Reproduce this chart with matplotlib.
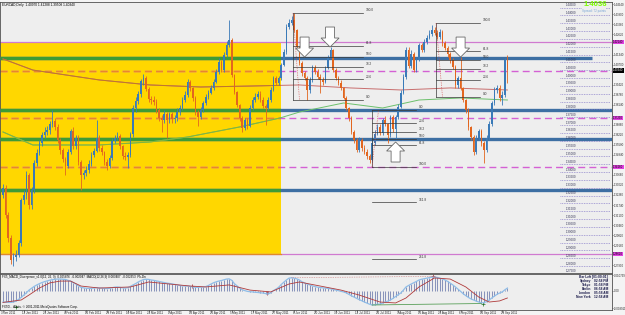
import numpy as np
import pandas as pd
import matplotlib.pyplot as plt
from matplotlib.patches import Rectangle, Polygon

plt.rcParams['font.family'] = ['Liberation Sans', 'DejaVu Sans']

# EURCAD daily bars, 3 Jan 2011 .. 30 Sep 2011 (weekdays)
dates = pd.bdate_range('2011-01-03', '2011-09-30')

first_open = 1.3240
closes = [1.3283, 1.3110, 1.2964, 1.2823, 1.2842, 1.2855, 1.2932, 1.3206, 1.3238, 1.3366,
          1.3174, 1.3270, 1.3442, 1.3506, 1.3570, 1.3621, 1.3640, 1.3653, 1.3691, 1.3710,
          1.3672, 1.3589, 1.3525, 1.3468, 1.3423, 1.3512, 1.3646, 1.3550, 1.3602, 1.3448,
          1.3366, 1.3378, 1.3397, 1.3436, 1.3493, 1.3519, 1.3602, 1.3538, 1.3512, 1.3448,
          1.3423, 1.3474, 1.3582, 1.3602, 1.3614, 1.3550, 1.3487, 1.3480, 1.3493, 1.3627,
          1.3793, 1.3838, 1.3882, 1.3965, 1.3984, 1.3914, 1.3850, 1.3844, 1.3831, 1.3780,
          1.3729, 1.3716, 1.3755, 1.3716, 1.3755, 1.3723, 1.3729, 1.3767, 1.3793, 1.3844,
          1.3876, 1.3959, 1.3921, 1.3857, 1.3767, 1.3736, 1.3780, 1.3825, 1.3863, 1.3889,
          1.3921, 1.3959, 1.4023, 1.4086, 1.4035, 1.4131, 1.4195, 1.4227, 1.4004, 1.3895,
          1.3812, 1.3729, 1.3665, 1.3716, 1.3678, 1.3793, 1.3844, 1.3863, 1.3882, 1.3844,
          1.3806, 1.3793, 1.3844, 1.3908, 1.3984, 1.3952, 1.3984, 1.4067, 1.4150, 1.4310,
          1.4335, 1.4354, 1.4291, 1.4182, 1.4080, 1.4016, 1.3984, 1.3908, 1.3972, 1.4048,
          1.4023, 1.3991, 1.3972, 1.3959, 1.4048, 1.4118, 1.4163, 1.4035, 1.3984, 1.3952,
          1.3921, 1.3857, 1.3793, 1.3729, 1.3640, 1.3589, 1.3525, 1.3589, 1.3538, 1.3512,
          1.3487, 1.3461, 1.3570, 1.3627, 1.3672, 1.3633, 1.3716, 1.3691, 1.3621, 1.3736,
          1.3659, 1.3736, 1.3799, 1.3889, 1.3991, 1.4163, 1.4061, 1.4138, 1.4035, 1.4099,
          1.4195, 1.4163, 1.4214, 1.4240, 1.4265, 1.4291, 1.4271, 1.4246, 1.4278, 1.4208,
          1.4176, 1.4138, 1.4099, 1.4055, 1.3940, 1.3984, 1.3921, 1.3844, 1.3780, 1.3672,
          1.3608, 1.3512, 1.3602, 1.3646, 1.3570, 1.3525, 1.3602, 1.3691, 1.3825, 1.3908,
          1.3921, 1.3857, 1.3876, 1.4097, 1.4034]
highs = [1.331, 1.330, 1.313, 1.298, 1.287, 1.289, 1.295, 1.322, 1.327, 1.339,
         1.338, 1.329, 1.346, 1.353, 1.359, 1.364, 1.367, 1.368, 1.371, 1.378,
         1.373, 1.369, 1.360, 1.354, 1.348, 1.353, 1.366, 1.367, 1.362, 1.362,
         1.346, 1.340, 1.342, 1.346, 1.351, 1.354, 1.3716, 1.362, 1.356, 1.352,
         1.347, 1.349, 1.360, 1.362, 1.364, 1.363, 1.356, 1.351, 1.351, 1.364,
         1.381, 1.386, 1.390, 1.398, 1.401, 1.400, 1.393, 1.387, 1.387, 1.385,
         1.379, 1.375, 1.378, 1.377, 1.377, 1.377, 1.375, 1.379, 1.381, 1.386,
         1.390, 1.398, 1.397, 1.393, 1.387, 1.378, 1.380, 1.384, 1.388, 1.391,
         1.394, 1.398, 1.404, 1.411, 1.410, 1.415, 1.422, 1.4354, 1.424, 1.401,
         1.390, 1.382, 1.374, 1.373, 1.373, 1.381, 1.386, 1.389, 1.390, 1.390,
         1.386, 1.382, 1.386, 1.393, 1.400, 1.400, 1.400, 1.408, 1.417, 1.433,
         1.436, 1.438, 1.4399, 1.430, 1.419, 1.409, 1.403, 1.400, 1.399, 1.407,
         1.407, 1.404, 1.401, 1.399, 1.406, 1.413, 1.4182, 1.417, 1.405, 1.400,
         1.397, 1.393, 1.387, 1.380, 1.374, 1.365, 1.360, 1.361, 1.360, 1.356,
         1.353, 1.350, 1.359, 1.365, 1.369, 1.369, 1.373, 1.374, 1.370, 1.375,
         1.375, 1.375, 1.382, 1.391, 1.401, 1.418, 1.418, 1.416, 1.415, 1.412,
         1.421, 1.421, 1.423, 1.426, 1.429, 1.4323, 1.431, 1.429, 1.430, 1.429,
         1.422, 1.419, 1.415, 1.411, 1.407, 1.400, 1.4118, 1.393, 1.385, 1.379,
         1.368, 1.362, 1.362, 1.366, 1.366, 1.358, 1.362, 1.371, 1.384, 1.393,
         1.394, 1.394, 1.390, 1.411, 1.41288]
lows = [1.322, 1.309, 1.294, 1.280, 1.2785, 1.282, 1.284, 1.291, 1.318, 1.321,
        1.315, 1.315, 1.325, 1.342, 1.349, 1.355, 1.360, 1.362, 1.363, 1.367,
        1.365, 1.357, 1.350, 1.345, 1.3366, 1.341, 1.350, 1.353, 1.353, 1.343,
        1.327, 1.334, 1.336, 1.338, 1.342, 1.348, 1.351, 1.352, 1.349, 1.343,
        1.340, 1.341, 1.346, 1.357, 1.359, 1.353, 1.347, 1.346, 1.341, 1.348,
        1.361, 1.377, 1.382, 1.386, 1.394, 1.390, 1.383, 1.382, 1.381, 1.376,
        1.371, 1.364, 1.370, 1.360, 1.370, 1.370, 1.370, 1.371, 1.375, 1.378,
        1.383, 1.386, 1.390, 1.384, 1.375, 1.368, 1.372, 1.377, 1.381, 1.385,
        1.388, 1.391, 1.395, 1.401, 1.402, 1.402, 1.412, 1.418, 1.399, 1.388,
        1.380, 1.371, 1.364, 1.365, 1.366, 1.367, 1.378, 1.383, 1.385, 1.383,
        1.379, 1.3685, 1.378, 1.383, 1.390, 1.394, 1.394, 1.397, 1.406, 1.414,
        1.430, 1.432, 1.428, 1.417, 1.407, 1.400, 1.397, 1.3844, 1.389, 1.396,
        1.401, 1.398, 1.389, 1.394, 1.395, 1.404, 1.411, 1.402, 1.397, 1.394,
        1.391, 1.385, 1.378, 1.371, 1.363, 1.357, 1.351, 1.351, 1.352, 1.350,
        1.347, 1.3442, 1.345, 1.356, 1.362, 1.362, 1.362, 1.368, 1.357, 1.361,
        1.364, 1.359, 1.372, 1.379, 1.388, 1.398, 1.405, 1.405, 1.402, 1.402,
        1.409, 1.415, 1.415, 1.420, 1.423, 1.425, 1.426, 1.423, 1.423, 1.419,
        1.416, 1.412, 1.408, 1.404, 1.392, 1.392, 1.391, 1.383, 1.376, 1.365,
        1.359, 1.349, 1.350, 1.359, 1.355, 1.3442, 1.351, 1.359, 1.368, 1.381,
        1.389, 1.384, 1.3812, 1.386, 1.39508]

# moving averages read at a few points (bar index, price)
ma_slow_bars = [0, 11.5, 37, 56.5, 76, 95, 114, 133.5, 153, 172, 194]
ma_slow_vals = [1.4106, 1.4035, 1.3972, 1.3940, 1.3927, 1.3933, 1.3940, 1.3921, 1.3908, 1.3921, 1.3908]
ma_fast_bars = [0, 11.5, 37, 56.5, 71, 91, 106.5, 114, 131, 146, 160, 176, 194]
ma_fast_vals = [1.3640, 1.3557, 1.3557, 1.3576, 1.3608, 1.3672, 1.3729, 1.3767, 1.3825, 1.3793, 1.3844, 1.3857, 1.3844]

# horizontal levels
level_thick = [1.4112, 1.3780, 1.3595, 1.3270]
level_dashed = [1.4032, 1.3729, 1.3416]
level_solid = [1.4214, 1.2862]
box_top, box_bottom = 1.4214, 1.2862

# fibonacci drawings: (price at 0.0, price at 100.0, levels shown)
fib_sets = [
    (1.3844, 1.4399, [0.0, 23.6, 38.2, 50.0, 61.8, 100.0]),
    (1.3780, 1.3416, [0.0, 23.6, 38.2, 50.0, 61.8, 100.0, 161.8, 261.8]),
    (1.3863, 1.4335, [0.0, 23.6, 38.2, 50.0, 61.8, 100.0]),
]

# MACD(12,26,9) histogram / main line and signal line
macd = [-0.0060, -0.0061, -0.0062, -0.0062, -0.0060, -0.0055, -0.0045, -0.0035, -0.0022, -0.0010,
        0.0005, 0.0015, 0.0025, 0.0033, 0.0040, 0.0046, 0.0051, 0.0055, 0.0059, 0.0062,
        0.0064, 0.0065, 0.0065, 0.0064, 0.0063, 0.0058, 0.0054, 0.0046, 0.0038, 0.0028,
        0.0020, 0.0017, 0.0015, 0.0014, 0.0015, 0.0016, 0.0018, 0.0017, 0.0016, 0.0014,
        0.0013, 0.0015, 0.0018, 0.0021, 0.0022, 0.0020, 0.0017, 0.0016, 0.0018, 0.0025,
        0.0033, 0.0040, 0.0049, 0.0056, 0.0062, 0.0064, 0.0063, 0.0060, 0.0058, 0.0055,
        0.0052, 0.0049, 0.0046, 0.0043, 0.0041, 0.0039, 0.0036, 0.0033, 0.0030, 0.0028,
        0.0027, 0.0027, 0.0025, 0.0022, 0.0020, 0.0020, 0.0021, 0.0022, 0.0024, 0.0030,
        0.0038, 0.0045, 0.0050, 0.0054, 0.0057, 0.0061, 0.0065, 0.0066, 0.0058, 0.0040,
        0.0028, 0.0016, 0.0007, 0.0002, -0.0002, -0.0004, -0.0005, -0.0007, -0.0008, -0.0010,
        -0.0011, -0.0014, -0.0016, -0.0010, 0.0002, 0.0010, 0.0020, 0.0035, 0.0048, 0.0060,
        0.0070, 0.0072, 0.0070, 0.0066, 0.0060, 0.0050, 0.0044, 0.0038, 0.0033, 0.0028,
        0.0024, 0.0021, 0.0019, 0.0017, 0.0016, 0.0014, 0.0012, 0.0009, 0.0005, 0.0002,
        -0.0002, -0.0005, -0.0010, -0.0018, -0.0026, -0.0033, -0.0040, -0.0047, -0.0053, -0.0060,
        -0.0066, -0.0072, -0.0076, -0.0075, -0.0072, -0.0071, -0.0066, -0.0060, -0.0055, -0.0049,
        -0.0040, -0.0030, -0.0020, -0.0011, 0.0005, 0.0022, 0.0030, 0.0038, 0.0045, 0.0052,
        0.0060, 0.0064, 0.0067, 0.0070, 0.0073, 0.0075, 0.0076, 0.0074, 0.0070, 0.0066,
        0.0060, 0.0052, 0.0043, 0.0033, 0.0022, 0.0010, -0.0002, -0.0015, -0.0025, -0.0035,
        -0.0043, -0.0049, -0.0055, -0.0060, -0.0065, -0.0063, -0.0058, -0.0049, -0.0038, -0.0028,
        -0.0018, -0.0011, -0.0005, 0.0006, 0.0016]
signal_bars = [0, 7, 10, 14, 18, 22, 26, 30, 37, 49, 56, 64, 72, 78, 87, 95, 103, 110, 114, 122,
               130, 137, 145, 151, 155, 160, 166, 172, 178, 183, 187, 191, 194]
signal_vals = [-0.0062, -0.0049, -0.0022, 0.0016, 0.0044, 0.0054, 0.0054, 0.0027, 0.0016, 0.0022,
               0.0049, 0.0038, 0.0027, 0.0022, 0.0033, 0.0005, -0.0005, 0.0038, 0.0049, 0.0027,
               0.0005, -0.0022, -0.0060, -0.0065, -0.0038, 0.0022, 0.0071, 0.0065, 0.0022, -0.0033,
               -0.0060, -0.0054, -0.0038]

clock_names = ['Sydney', 'Tokyo', 'Berlin', 'London', 'New York']
clock_times = ['02:58 PM', '01:58 PM', '06:58 AM', '05:58 AM', '12:58 AM']

# ---------------------------------------------------------------------------
W, H = 625, 315
PXB = 2.6          # pixels per bar
PXP = 0.000638     # price per pixel

fig = plt.figure(figsize=(W / 100, H / 100), dpi=100)
fig.patch.set_facecolor('#f4f4f4')


def px_axes(x0, y0, x1, y1):
    return fig.add_axes([x0 / W, 1 - y1 / H, (x1 - x0) / W, (y1 - y0) / H])


def bx(px):
    return (px - 3) / PXB


ax = px_axes(0, 2, 612, 273)
mx = px_axes(0, 274, 612, 310)
bg = '#eeeeee'
xl = (bx(0), bx(612))
for a in (ax, mx):
    a.set_facecolor(bg)
    a.set_xlim(*xl)
    a.set_xticks([])
    for s in a.spines.values():
        s.set_color('#505050')
        s.set_linewidth(0.6)
ax.set_ylim(1.4482 - 273 * PXP, 1.4482 - 2 * PXP)

idx = np.arange(len(closes))
c = np.array(closes)
o = np.array([first_open] + closes[:-1])
hi = np.array(highs)
lo = np.array(lows)

# yellow zone
box = Rectangle((xl[0], box_bottom), bx(281) - xl[0], box_top - box_bottom,
                facecolor='#ffd700', edgecolor='none', zorder=1)
ax.add_patch(box)

blue, green = '#3d6fa3', '#3e9b35'
for p in level_thick:
    end = bx(592) if p == level_thick[0] else xl[1]
    ax.plot([xl[0], end], [p, p], color=blue, lw=2.4, solid_capstyle='butt', zorder=3)
    g, = ax.plot([xl[0], end], [p, p], color=green, lw=2.4, solid_capstyle='butt', zorder=3)
    g.set_clip_path(box)
for p in level_dashed:
    ax.plot(xl, [p, p], color='#d460d4', lw=1.0, dashes=(5, 3), zorder=2)
    d, = ax.plot(xl, [p, p], color='#e8862e', lw=1.0, dashes=(5, 3), zorder=2)
    d.set_clip_path(box)
for p in level_solid:
    ax.plot(xl, [p, p], color='#d07ad0', lw=0.9, zorder=2)
ax.plot([xl[0], bx(281)], [box_bottom, box_bottom], color='#e08a2a', lw=0.9, zorder=2)

# moving averages
for bars, vals, out_c, in_c in ((ma_slow_bars, ma_slow_vals, '#c86e6e', '#c0782a'),
                                (ma_fast_bars, ma_fast_vals, '#6cc06c', '#86b43a')):
    ax.plot(bars, vals, color=out_c, lw=0.7, zorder=3)
    m, = ax.plot(bars, vals, color=in_c, lw=0.7, zorder=3)
    m.set_clip_path(box)

# candles
col = np.where(c >= o, '#3a7ab8', '#e2661f')
ax.vlines(idx, lo, hi, colors=col, lw=0.6, zorder=4)
ax.bar(idx, np.maximum(np.abs(c - o), 0.0004), bottom=np.minimum(o, c), width=0.66,
       color=col, lw=0, zorder=5)

# fibonacci levels
fib_x = [(bx(293), bx(363)), (bx(372), bx(416)), (bx(436), bx(480))]
for (p0, p100, lv), (x0, x1) in zip(fib_sets, fib_x):
    for l in lv:
        p = p0 + (p100 - p0) * l / 100
        ax.plot([x0, x1], [p, p], color='#3a3a3a', lw=0.5, zorder=6)
        ax.text(x1 + 1.2, p + 0.0005, f'{l:.1f}', fontsize=2.3, color='#333333',
                ha='left', va='bottom', zorder=6)
    ax.plot([x0, x0], [p0, p100], color='#3a3a3a', lw=0.5, zorder=6)
    ax.plot([x0, x0 + 2.5], [p100, p0], color='#d04040', lw=0.5, ls=(0, (1, 1.5)), zorder=6)

# hollow arrows (bar, tip price, direction)
arrow_marks = [(116, 1.4118, -1), (125.8, 1.4182, -1), (176, 1.4118, -1), (151, 1.3576, 1)]
hw, sw, hh, tot = 9 / PXB, 4.5 / PXB, 9 * PXP, 20 * PXP
for b, t, d in arrow_marks:
    s = -d
    pts = [(b, t), (b + hw, t + s * hh), (b + sw, t + s * hh), (b + sw, t + s * tot),
           (b - sw, t + s * tot), (b - sw, t + s * hh), (b - hw, t + s * hh)]
    ax.add_patch(Polygon(pts, closed=True, facecolor='white', edgecolor='#6a6a6a',
                         lw=0.6, zorder=7))

# price ladder overlay on the right
for p in np.round(np.arange(1.275, 1.4451, 0.005), 3):
    ax.plot([bx(560), bx(610)], [p - 0.0016, p - 0.0016], color='#8478c8', lw=0.55,
            ls=(0, (1, 1.2)), zorder=6)
    ax.text(bx(566), p, f'{p:.5f}', fontsize=2.1, color='#333355', ha='left',
            va='center', zorder=6)

# right price scale, with coloured level tags
tags = [(1.4214, '#e040e0', 'black'), (1.3729, '#e040e0', 'black'),
        (1.3416, '#e040e0', 'black'), (1.2862, '#e040e0', 'black'),
        (c[-1], 'black', 'white')]
ax.yaxis.tick_right()
ticks = np.round(np.arange(1.2790, 1.4470, 0.0064), 4)
ticks = [t for t in ticks if min(abs(t - tg[0]) for tg in tags) > 0.0035]
ax.set_yticks(ticks)
ax.set_yticklabels([f'{t:.4f}0' for t in ticks])
ax.tick_params(axis='y', labelsize=2.0, length=1.0, width=0.4, pad=0.3, colors='#222222')
for p, fc, tc in tags:
    ax.text(1.0015, p, f'{p:.5f}', transform=ax.get_yaxis_transform(), fontsize=2.0,
            color=tc, va='center', ha='left', clip_on=False,
            bbox=dict(boxstyle='square,pad=0.12', fc=fc, ec='none'), zorder=8)

# header texts
ax.text(0.004, 0.995, f'EURCAD,Daily  {o[-1]:.5f} {hi[-1]:.5f} {lo[-1]:.5f} {c[-1]:.5f}',
        transform=ax.transAxes, fontsize=2.3, va='top', ha='left', color='black')
ax.text(bx(607), 1.4430, f'{c[-1] + 0.0002:.4f}', fontsize=5.6, color='#7cfc00',
        ha='right', va='bottom', fontweight='bold', zorder=8)
ax.text(bx(606), 1.4426, 'Spread: 72 points', fontsize=2.2, color='#7aa6d6',
        ha='right', va='top', zorder=8,
        bbox=dict(boxstyle='square,pad=0.1', fc=bg, ec='none'))

# MACD panel
mx.set_ylim(-(310 - 291) * 0.000544, (291 - 274) * 0.000544)
mx.vlines(idx, 0, macd, colors='#5e6ea6', lw=0.5, zorder=2)
mx.plot(idx, macd, color='#8fbde8', lw=0.9, zorder=3)
mx.plot(signal_bars, signal_vals, color='#b03a3a', lw=0.6, zorder=3)
mx.plot([111, 166], [0.0072, 0.0080], color='#c87070', lw=0.5, ls=(0, (1, 1.5)), zorder=3)
mx.plot([142, 184], [-0.0076, -0.0068], color='#5aa05a', lw=0.6, zorder=3)
mx.plot([101.5, 165.4, 72.7], [-0.0011, 0.0080, 0.0027], '+', color='#a02020', ms=2.5, mew=0.5)
mx.plot([184.6, 5], [-0.0068, -0.0087], '+', color='#207020', ms=2.5, mew=0.5)
mx.yaxis.tick_right()
mx.set_yticks([0.0087, 0.0, -0.0095])
mx.set_yticklabels(['0.010739', '0.00', '-0.008911'])
mx.tick_params(axis='y', labelsize=2.0, length=1.0, width=0.4, pad=0.3, colors='#222222')
mx.text(0.004, 0.97, 'FX5_MACD_Divergence_v1.0(12, 26, 9)  0.005876  -0.002047  '
        'MACD(12,26,9) 0.003407  -0.002353  Pk-Dn', transform=mx.transAxes,
        fontsize=2.2, va='top', ha='left', color='black')
mx.text(0.004, 0.04, 'FX5D... Alerts. \u00a9 2001-2011 MetaQuotes Software Corp.',
        transform=mx.transAxes, fontsize=2.2, va='bottom', ha='left', color='black')
mx.text(bx(608), 0.0086, 'Bar Left [01:00:01]', fontsize=2.3, fontweight='bold',
        color='#1a1a4a', ha='right', va='top')
for k, (nm, tm) in enumerate(zip(clock_names, clock_times)):
    yv = 0.0086 - (k + 1) * 0.0022
    mx.text(bx(591), yv, nm, fontsize=2.3, fontweight='bold', color='#1a1a4a',
            ha='right', va='top')
    mx.text(bx(608), yv, tm, fontsize=2.3, fontweight='bold', color='#1a1a4a',
            ha='right', va='top')

# date labels every 8 bars
for i in range(0, len(dates), 8):
    d = dates[i]
    fig.text((3 + PXB * i - 1.5) / W, 1 - 314.8 / H, f'{d.day} {d.strftime("%b %Y")}',
             fontsize=2.1, ha='left', va='bottom', color='#222222')
    fig.add_artist(plt.Line2D([(3 + PXB * i) / W] * 2, [1 - 310 / H, 1 - 311.5 / H],
                              color='#404040', lw=0.4))

fig.savefig('out.png', dpi=100, facecolor=fig.get_facecolor())
